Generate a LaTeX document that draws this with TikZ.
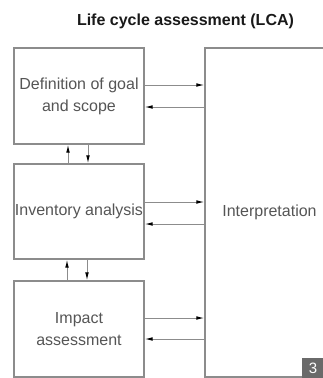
\documentclass[tikz,border=0pt]{standalone}
\usepackage{fontspec}
\setmainfont{Liberation Sans}
\usetikzlibrary{positioning}
\usetikzlibrary{arrows.meta}
\definecolor{boxline}{HTML}{8C8C8C}
\definecolor{boxtext}{HTML}{555555}
\definecolor{badge}{HTML}{6A6A6A}

\begin{document}
\begin{tikzpicture}[x=1pt, y=-1pt,
  every node/.style = {font=\fontsize{16}{22}\selectfont},
  stage/.style = {shape=rectangle, draw=boxline, line width=1.1pt,
    align=center, text=boxtext, minimum width=130pt, inner sep=0pt},
  flow/.style = {draw=boxline, line width=1pt, -{Latex[length=8pt,width=3.6pt,black]}}
  ]
  \useasboundingbox (0,0) rectangle (323,378);
  \clip (0,0) rectangle (323,378);

  \node[font=\bfseries\fontsize{16}{20}\selectfont, text=black!90] (title) at (185.5,21) {Life cycle assessment (LCA)};

  \node[stage, minimum height=96pt] (goal) at (79,96) {Definition of goal\\and scope};
  \node[stage, minimum height=95pt] (inventory) at (79,211.5) {Inventory analysis};
  \node[stage, minimum height=96pt] (impact) at (79,329) {Impact\\assessment};
  \node[stage, minimum width=129pt, minimum height=329pt] (interp) at (269.5,212.5) {Interpretation};

  % to and from interpretation
  \draw[flow] ([yshift=11pt]goal.east) -- ([yshift=11pt]goal.east -| interp.west);
  \draw[flow] ([yshift=-11pt]goal.east -| interp.west) -- ([yshift=-11pt]goal.east);
  \draw[flow] ([yshift=9.5pt]inventory.east) -- ([yshift=9.5pt]inventory.east -| interp.west);
  \draw[flow] ([yshift=-12.5pt]inventory.east -| interp.west) -- ([yshift=-12.5pt]inventory.east);
  \draw[flow] ([yshift=11pt]impact.east) -- ([yshift=11pt]impact.east -| interp.west);
  \draw[flow] ([yshift=-10pt]impact.east -| interp.west) -- ([yshift=-10pt]impact.east);

  % between the stages
  \draw[flow] ([xshift=-11pt]inventory.north) -- ([xshift=-11pt]inventory.north |- goal.south);
  \draw[flow] ([xshift=9pt]goal.south) -- ([xshift=9pt]goal.south |- inventory.north);
  \draw[flow] ([xshift=-12pt]impact.north) -- ([xshift=-12pt]impact.north |- inventory.south);
  \draw[flow] ([xshift=8pt]inventory.south) -- ([xshift=8pt]inventory.south |- impact.north);

  \node[fill=badge, text=white, minimum width=22pt, minimum height=21pt, inner sep=0pt,
    font=\fontsize{15}{15}\selectfont] (page) at (313,368.5) {3};
\end{tikzpicture}
\end{document}
